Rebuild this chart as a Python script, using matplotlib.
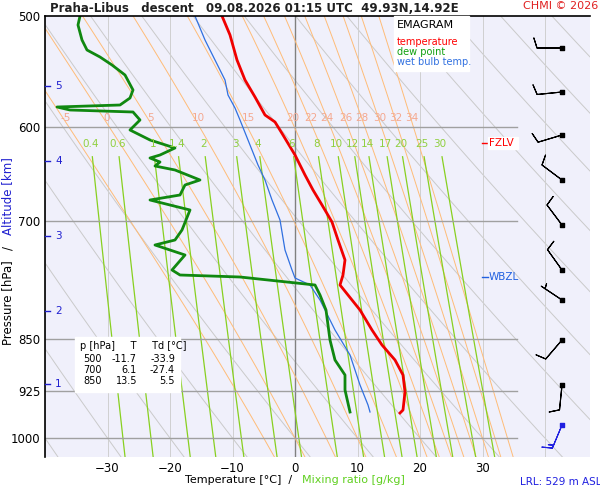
import numpy as np
import matplotlib
matplotlib.use("Agg")
import matplotlib.pyplot as plt

W, H = 600, 500
X0, KX = 295.0, 6.25          # pixel of 0 degC, px per degC
Y0, KY = 16.0, 609.0          # pixel of 500 hPa, px per ln(p)

def t_of(x):
    return (np.asarray(x, float) - X0) / KX

def p_of(y):
    return 500.0 * np.exp((np.asarray(y, float) - Y0) / KY)

# profiles (pixel coordinates of the reference)
temp_x = [222, 230, 237, 245, 255, 265, 275, 283, 295, 305, 313, 322, 332, 338, 345, 343, 340,
          348, 360, 372, 382, 395, 403, 405, 403, 400]
temp_y = [16, 35, 60, 80, 97, 115, 122, 135, 155, 175, 190, 205, 222, 240, 260, 275, 285,
          295, 310, 330, 345, 360, 375, 392, 410, 413]
dew_x = [80, 78, 82, 87, 100, 112, 125, 133, 130, 120, 57, 70, 133, 140, 130, 150, 175, 160, 150,
         160, 155, 175, 200, 185, 180, 150, 190, 182, 175, 155, 185, 172, 180, 240, 315, 320, 326,
         330, 335, 345, 345, 350]
dew_y = [16, 25, 40, 50, 57, 65, 75, 90, 98, 105, 107, 110, 112, 120, 130, 140, 148, 155, 158,
         162, 166, 170, 180, 185, 195, 200, 210, 230, 240, 245, 255, 270, 275, 277, 285, 295, 310,
         340, 360, 375, 390, 412]
wb_x = [195, 205, 215, 225, 228, 235, 240, 246, 252, 258, 265, 272, 280, 285, 292, 295, 310, 320,
        335, 350, 360, 368, 370]
wb_y = [16, 40, 60, 80, 95, 108, 120, 135, 150, 165, 180, 200, 220, 250, 270, 278, 285, 300,
        330, 355, 385, 405, 412]

theta_w = [-5, 0, 5, 10, 15, 20, 22, 24, 26, 28, 30, 32, 34]
theta_w_label_x = [66, 107, 150, 198, 248, 293, 311, 327, 346, 362, 380, 396, 412]
mix_ratios = [0.4, 0.6, 1, 1.4, 2, 3, 4, 6, 8, 10, 12, 14, 17, 20, 25, 30]
mix_labels = ["0.4", "0.6", "1", "1.4", "2", "3", "4", "6", "8", "10", "12", "14", "17", "20", "25", "30"]
height_km = [1, 2, 3, 4, 5]
height_y = [384, 311, 236, 161, 86]
table_p = [500, 700, 850]
table_t = [-11.7, 6.1, 13.5]
table_td = [-33.9, -27.4, 5.5]
barb_y = [48, 92, 135, 180, 225, 270, 300, 340, 385, 425]
barb_u = [10, 10, 10, 8, 6, 5, 6, 6, 1, 5]
barb_v = [0, 1, 3, -6, -8, -7, -4, 7, 10, 12]

fig = plt.figure(figsize=(6, 5), dpi=100)
ax = fig.add_axes([45 / W, (H - 457) / H, (590 - 45) / W, (457 - 16) / H])
ax.set_facecolor("#f0f0fb")
ax.set_yscale("log")
tmin, tmax = t_of(45), t_of(590)
pbot = p_of(457)
ax.set_xlim(tmin, tmax)
ax.set_ylim(pbot, 500)

pp = np.linspace(pbot, 480, 300)
# dry adiabats
for th in range(-40, 160, 10):
    ax.plot((th + 273.15) * (pp / 1000) ** 0.286 - 273.15, pp, color="#cacaca", lw=0.7)
# isotherms
for t in range(-40, 50, 10):
    ax.axvline(t, color="#808080" if t == 0 else "#d0d0d0", lw=1.0 if t == 0 else 0.7)

def es(t):
    return 6.112 * np.exp(17.67 * t / (t + 243.5))

def run(p_arr, T0):
    out = [T0]
    T = T0
    for i in range(1, len(p_arr)):
        p = p_arr[i - 1]
        rs = 0.622 * es(T - 273.15) / (p - es(T - 273.15))
        dTdp = (287 * T + 2.5e6 * rs) / (1004 + 2.5e6 ** 2 * rs * 0.622 / (287 * T * T)) / p
        T = T + dTdp * (p_arr[i] - p)
        out.append(T)
    return np.array(out)

# moist adiabats
for tw, lx in zip(theta_w, theta_w_label_x):
    T = tw + 273.15
    up = np.linspace(1000, 480, 400)
    dn = np.linspace(1000, 1040, 30)
    tu, td_ = run(up, T), run(dn, T)
    ax.plot(np.r_[td_[::-1], tu] - 273.15, np.r_[dn[::-1], up], color="#ffbc78", lw=0.7)
    ax.text(t_of(lx), 596, str(tw), color="#f4a890", fontsize=7.5, ha="center", va="bottom")

# mixing ratio lines
pm = np.linspace(pbot, 630, 100)
for w, lab in zip(mix_ratios, mix_labels):
    e = w * pm / (622 + w)
    le = np.log(e / 6.112)
    td = 243.5 * le / (17.67 - le)
    ax.plot(td, pm, color="#88d020", lw=0.9)
    e0 = w * 617 / (622 + w)
    l0 = np.log(e0 / 6.112)
    ax.text(243.5 * l0 / (17.67 - l0), 617, lab, color="#90d040", fontsize=7.5, ha="center", va="center")

# isobars
for p in [600, 700, 850, 925, 1000]:
    ax.plot([tmin, t_of(517)], [p, p], color="#a0a0a0", lw=1.0)

ax.plot(t_of(wb_x), p_of(wb_y), color="#3070e0", lw=0.9)
ax.plot(t_of(dew_x), p_of(dew_y), color="#108810", lw=2)
ax.plot(t_of(temp_x), p_of(temp_y), color="#f00000", lw=2)

ax.set_yticks([500, 600, 700, 850, 925, 1000])
ax.set_yticklabels(["500", "600", "700", "850", "925", "1000"])
ax.yaxis.set_minor_locator(plt.NullLocator())
ax.set_xticks([-30, -20, -10, 0, 10, 20, 30])
ax.tick_params(length=0, labelsize=8.5)
for s in ["right", "bottom"]:
    ax.spines[s].set_visible(False)
ax.spines["top"].set_linewidth(1.2)
ax.spines["left"].set_linewidth(1.2)

# pixel overlay
ov = fig.add_axes([0, 0, 1, 1], facecolor="none")
ov.set_xlim(0, W)
ov.set_ylim(H, 0)
ov.axis("off")
ov.text(50, 8, "Praha-Libus   descent   09.08.2026 01:15 UTC  49.93N,14.92E",
        fontsize=8.5, weight="semibold", va="center", color="#202020")
ov.text(598, 6, "CHMI © 2026", color="#e02020", fontsize=8, ha="right", va="center")
ov.text(8, 260, "Pressure [hPa]", rotation=90, fontsize=8.5, ha="center", va="top")
ov.text(8, 250, "/   ", rotation=90, fontsize=8.5, ha="center", va="bottom")
ov.text(8, 235, "Altitude [km]", rotation=90, fontsize=8.5, ha="center", va="bottom", color="#2020d0")
ov.text(292, 480, "Temperature [°C]  /", fontsize=8, ha="right", va="center")
ov.text(302, 480, "Mixing ratio [g/kg]", fontsize=8, color="#60d020", va="center")
ov.text(520, 482, "LRL: 529 m ASL", fontsize=7.5, color="#2020e0", va="center")
for k, y in zip(height_km, height_y):
    ov.plot([45, 50], [y, y], color="#2020d0", lw=1)
    ov.text(55, y, str(k), color="#2020d0", fontsize=7.5, va="center")
# legend box
ov.add_patch(plt.Rectangle((394, 16), 75, 55, color="white", zorder=3))
ov.text(397, 25, "EMAGRAM", fontsize=8, va="center", zorder=4)
ov.text(397, 42, "temperature", fontsize=7, color="#ff0000", va="center", zorder=4)
ov.text(397, 52, "dew point", fontsize=7, color="#10a010", va="center", zorder=4)
ov.text(397, 62, "wet bulb temp.", fontsize=7, color="#3070e0", va="center", zorder=4)
# table
ov.add_patch(plt.Rectangle((75, 337), 105, 55, color="white", zorder=3))
ov.text(80, 346, "p [hPa]     T     Td [°C]", fontsize=7, va="center", zorder=4)
for i, (p, t, td) in enumerate(zip(table_p, table_t, table_td)):
    yy = 359 + i * 11
    ov.text(102, yy, str(p), fontsize=7, ha="right", va="center", zorder=4)
    ov.text(137, yy, f"{t:.1f}", fontsize=7, ha="right", va="center", zorder=4)
    ov.text(175, yy, f"{td:.1f}", fontsize=7, ha="right", va="center", zorder=4)
# levels
ov.plot([482, 488], [143, 143], color="red", lw=1)
ov.add_patch(plt.Rectangle((488, 137), 30, 12, color="white", zorder=3))
ov.text(489, 143, "FZLV", color="red", fontsize=7.5, va="center", zorder=4)
ov.plot([482, 488], [277, 277], color="#2060e0", lw=1)
ov.text(489, 277, "WBZL", color="#2060e0", fontsize=7.5, va="center")
# wind barbs
cols = ["black"] * (len(barb_y) - 1) + ["#2020e0"]
ov.barbs([562] * len(barb_y), barb_y, barb_u, barb_v, color=cols, length=6, linewidth=0.8)
ov.scatter([562] * len(barb_y), barb_y, s=6, c=cols, marker="s")

fig.savefig("out.png", dpi=100)
